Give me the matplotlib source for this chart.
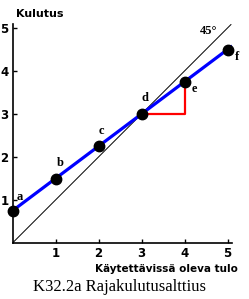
import matplotlib
matplotlib.use('Agg')
from matplotlib import pyplot as plt

# data
tulo = [0, 1, 2, 3, 4, 5]
kulutus = [0.75, 1.5, 2.25, 3.0, 3.75, 4.5]
labels = ['a', 'b', 'c', 'd', 'e', 'f']
label_pos = [(0.1, 1.08), (1.02, 1.87), (2.0, 2.6), (3.0, 3.37), (4.17, 3.58), (5.17, 4.32)]
line_x = [0, 5.08]
line_y = [0.75, 0.75 + 0.75 * 5.08]
diag = [0, 5.08]
tri_x = [3, 4, 4]
tri_y = [3, 3, 3.75]

W, H = 249, 299
fig = plt.figure(figsize=(W / 100, H / 100), dpi=100)
x0, y0, unit = 12.5, 243, 43
ax = fig.add_axes([x0 / W, 1 - y0 / H, 5.1 * unit / W, 5.1 * unit / H])
ax.set_xlim(0, 5.1)
ax.set_ylim(0, 5.1)

ax.plot(diag, diag, color='black', lw=0.7)
ax.plot(tri_x, tri_y, color='red', lw=1.6)
ax.plot(line_x, line_y, color='blue', lw=2.3)
ax.plot(tulo, kulutus, 'o', color='black', ms=7.5, clip_on=False)

for t, (lx, ly) in zip(labels, label_pos):
    ax.text(lx, ly, t, fontsize=9, fontweight='bold', family='Liberation Serif',
            ha='left', va='center')
ax.text(4.57, 4.93, '45°', fontsize=9, fontweight='bold', family='Liberation Serif',
        ha='center', va='center')

for s in ['top', 'right']:
    ax.spines[s].set_visible(False)
ax.spines['left'].set_linewidth(1.2)
ax.spines['bottom'].set_linewidth(1.2)
ax.set_xticks([1, 2, 3, 4, 5])
ax.set_yticks([1, 2, 3, 4, 5])
ax.tick_params(direction='in', length=3, width=1, labelsize=8.5, pad=3)
for lab in ax.get_xticklabels() + ax.get_yticklabels():
    lab.set_fontweight('bold')

fig.text(16 / W, 1 - 14 / H, 'Kulutus', fontsize=8, fontweight='bold', va='center', ha='left')
fig.text(238 / W, 1 - 269 / H, 'Käytettävissä oleva tulo', fontsize=7.5, fontweight='bold',
         va='center', ha='right')
fig.text(119 / W, 1 - 287 / H, 'K32.2a Rajakulutusalttius', fontsize=12,
         family='Liberation Serif', va='center', ha='center')

fig.savefig('out.png', dpi=100)
